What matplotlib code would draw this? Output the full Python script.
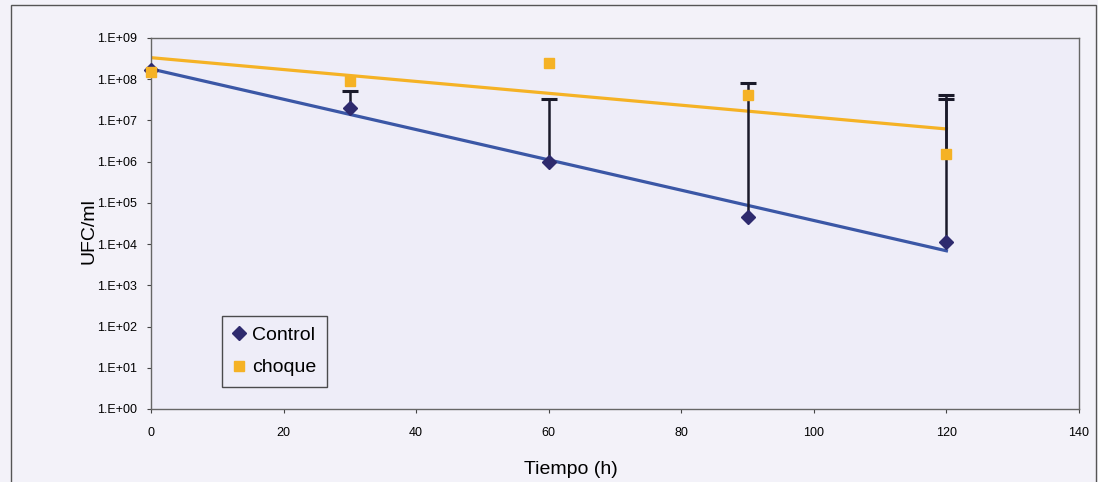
"""UFC/ml over time for control vs. choque, log scale with exponential trendlines."""

import numpy as np
import matplotlib

matplotlib.use("Agg")
import matplotlib.pyplot as plt
from matplotlib.patches import Rectangle

# data
tiempo_h = np.array([0, 30, 60, 90, 120])
control = np.array([1.7e8, 2.0e7, 9.5e5, 4.5e4, 1.1e4])
choque = np.array([1.45e8, 9.0e7, 2.4e8, 4.0e7, 1.5e6])
# upper ends of the (plus-only) error bars, nan = none
control_upper = np.array([np.nan, 5.0e7, 3.3e7, 8.2e7, 4.2e7])
choque_upper = np.array([np.nan, np.nan, np.nan, np.nan, 3.2e7])

x_ticks = [0, 20, 40, 60, 80, 100, 120, 140]
y_exps = list(range(0, 10))
y_ticklabels = [f"1.E+{k:02d}" for k in y_exps]

C_CONTROL = "#2e2a6e"
C_CONTROL_LINE = "#3b57a6"
C_CHOQUE = "#f5b225"
C_ERR = "#1a1a2a"
BG = "#f3f2f9"
PLOT_BG = "#eeedf8"

plt.rcParams["font.family"] = ["Liberation Sans", "DejaVu Sans"]

fig = plt.figure(figsize=(10.98, 4.82), dpi=100, facecolor=BG)
ax = fig.add_axes([0.1375, 0.1515, 0.8452, 0.77])
ax.set_facecolor(PLOT_BG)

# outer chart frame
fig.patches.append(Rectangle((0.010, -0.05), 0.988, 1.04, transform=fig.transFigure,
                             fill=False, edgecolor="#555555", linewidth=1.0))


def exp_trend(x, y):
    # Excel-style exponential trendline: straight line in log10 space
    slope, icpt = np.polyfit(x, np.log10(y), 1)
    xs = np.array([x.min(), x.max()])
    return xs, 10 ** (icpt + slope * xs)


xs, ys = exp_trend(tiempo_h, choque)
ax.plot(xs, ys, color=C_CHOQUE, lw=2.3, zorder=2)
xs, ys = exp_trend(tiempo_h, control)
ax.plot(xs, ys, color=C_CONTROL_LINE, lw=2.3, zorder=2)

# error bars, plus direction only: stem + top cap
for vals, upper in ((control, control_upper), (choque, choque_upper)):
    m = ~np.isnan(upper)
    ax.vlines(tiempo_h[m], vals[m], upper[m], color=C_ERR, lw=1.8, zorder=3)
    ax.plot(tiempo_h[m], upper[m], "_", color=C_ERR, ms=12, mew=2.2, ls="none", zorder=3)

ax.plot(tiempo_h, control, "D", color=C_CONTROL, ms=7, ls="none",
        label="Control", zorder=4, clip_on=False)
ax.plot(tiempo_h, choque, "s", color=C_CHOQUE, ms=7, ls="none",
        label="choque", zorder=4, clip_on=False)

ax.set_yscale("log")
ax.set_ylim(1, 1e9)
ax.set_xlim(0, 140)
ax.set_yticks([10.0 ** k for k in y_exps])
ax.set_yticklabels(y_ticklabels)
ax.yaxis.set_minor_locator(matplotlib.ticker.NullLocator())
ax.set_xticks(x_ticks)
ax.tick_params(labelsize=9, length=3, width=0.8, color="#444444")
ax.tick_params(axis="y", pad=7)
ax.tick_params(axis="x", pad=10)

for side in ("top", "right", "left", "bottom"):
    ax.spines[side].set_color("#666666")
    ax.spines[side].set_linewidth(1.0)

ax.set_xlabel("Tiempo (h)", fontsize=14)
ax.xaxis.set_label_coords(0.452, -0.14)
ax.set_ylabel("UFC/ml", fontsize=14)
ax.yaxis.set_label_coords(-0.058, 0.48)

leg = ax.legend(loc="upper left", bbox_to_anchor=(0.0765, 0.2507), fontsize=14,
                frameon=True, fancybox=False, handlelength=0.7, handletextpad=0.3,
                borderpad=0.55, labelspacing=0.75, borderaxespad=0)
leg.get_frame().set_edgecolor("#222222")
leg.get_frame().set_facecolor(PLOT_BG)
leg.get_frame().set_linewidth(1.0)

fig.savefig("out.png", dpi=100, facecolor=BG)
